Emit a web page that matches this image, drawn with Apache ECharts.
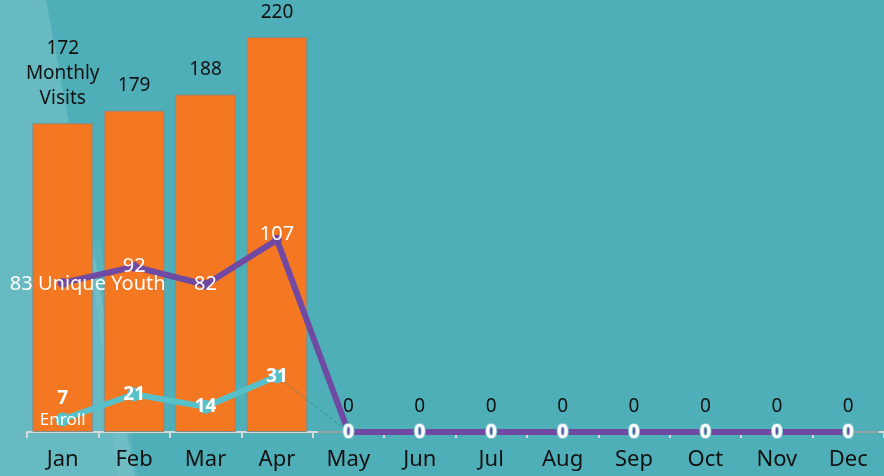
<!DOCTYPE html>
<html><head><meta charset="utf-8">
<script src="https://cdn.jsdelivr.net/npm/echarts@6/dist/echarts.min.js"></script>
<style>html,body{margin:0;padding:0;background:#4eafb8}#c{width:884px;height:476px}</style>
</head><body><div id="c"></div>
<script>
const months = ['Jan','Feb','Mar','Apr','May','Jun','Jul','Aug','Sep','Oct','Nov','Dec'];
const monthlyVisits = [172,179,188,220,0,0,0,0,0,0,0,0];
const uniqueYouth = [83,92,82,107,0,0,0,0,0,0,0,0];
const enroll = [7,21,14,31,null,null,null,null,null,null,null,null];
const enrollTail = [null,null,null,31,0,0,0,0,0,0,0,0];
const FONT = 'Noto Sans';

const chart = echarts.init(document.getElementById('c'));
chart.setOption({
  backgroundColor: '#4eafb8',
  animation: false,
  textStyle: {fontFamily: FONT},
  graphic: [
    {type:'polygon', silent:true, z:-10, shape:{points:[[0,0],[46,0],[135,476],[0,476]]}, style:{fill:'rgba(255,255,255,0.14)'}},
    {type:'polygon', silent:true, z:-10, shape:{points:[[88,240],[100,240],[138,476],[118,476]]}, style:{fill:'rgba(255,255,255,0.06)'}}
  ],
  grid: {left:27, right:0, top:1, bottom:44},
  xAxis: {
    type:'category', data: months, boundaryGap:true,
    axisLine:{show:true, lineStyle:{color:'#d9d9d9', width:2}},
    axisTick:{show:true, length:6, lineStyle:{color:'#d9d9d9', width:2}},
    axisLabel:{color:'#111', fontSize:22, margin:17, fontFamily:FONT}
  },
  yAxis: {type:'value', min:0, max:240, show:false, splitLine:{show:false}},
  series: [
    {
      name:'Monthly Visits', type:'bar', data: monthlyVisits, barCategoryGap:'15%',
      itemStyle:{color:'#f47721', borderColor:'#7f8f8c', borderWidth:1},
      label:{show:true, position:'top', distance:12, color:'#111', fontSize:19, lineHeight:25, fontFamily:FONT,
        formatter: p => p.dataIndex === 0 ? p.value + '\nMonthly\nVisits' : String(p.value)}
    },
    {
      name:'Enroll tail', type:'line', data: enrollTail, symbol:'none', z:3, silent:true,
      lineStyle:{color:'rgba(40,120,128,0.55)', width:1, type:[4,2]}
    },
    {
      name:'Enroll', type:'line', data: enroll, symbol:'circle', symbolSize:14, z:4,
      lineStyle:{color:'#58c0c8', width:6}, itemStyle:{color:'#58c0c8'},
      label:{show:true, position:'inside', color:'#fff', fontSize:19, fontWeight:'bold', lineHeight:21, fontFamily:FONT,
        formatter: p => p.dataIndex === 0 ? '{a|' + p.value + '}\n{b|Enroll}' : String(p.value),
        rich:{a:{fontSize:19, color:'#fff', lineHeight:21}, b:{fontSize:17, fontWeight:'normal', color:'#fff', lineHeight:21}}},
      labelLayout: p => p.dataIndex === 0 ? {dy:-10} : {}
    },
    {
      name:'Unique Youth', type:'line', data: uniqueYouth.map(v => v === 0 ? {value:v, label:{fontWeight:'bold', textBorderColor:'#7fc7cc', textBorderWidth:2}} : v),
      symbol:'circle', symbolSize:10, z:5,
      lineStyle:{color:'#7049a3', width:6}, itemStyle:{color:'#7049a3'},
      label:{show:true, position:'inside', color:'#fff', fontSize:20, fontFamily:FONT,
        formatter: p => p.dataIndex === 0 ? p.value + ' Unique Youth' : String(p.value)},
      labelLayout: p => {
        if (p.dataIndex === 0) return {dx:25, dy:1};
        if (p.dataIndex === 3) return {dy:-6};
        return {};
      }
    }
  ]
});
</script></body></html>
